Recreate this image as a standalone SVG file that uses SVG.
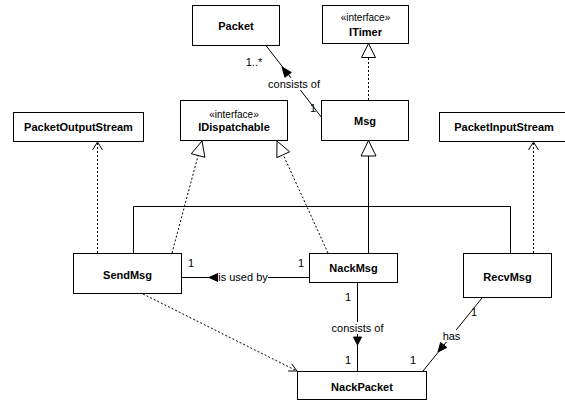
<svg xmlns="http://www.w3.org/2000/svg" width="565" height="400" viewBox="0 0 565 400">
<style>
.box{fill:#fff;stroke:#000;stroke-width:1}
.cn{font-family:"Liberation Sans",Arial,sans-serif;font-size:11px;font-weight:bold;text-anchor:middle;fill:#000}
.st{font-family:"Liberation Sans",Arial,sans-serif;font-size:10px;text-anchor:middle;fill:#000}
.lb{font-family:"Liberation Sans",Arial,sans-serif;font-size:11px;text-anchor:middle;fill:#000}
.ln{fill:none;stroke:#000;stroke-width:1}
.dl{fill:none;stroke:#000;stroke-width:1;stroke-dasharray:2,2}
.tri{fill:#fff;stroke:#000;stroke-width:1}
.fa{fill:#000;stroke:#000;stroke-width:1}
.bg{fill:#fff}
</style>
<rect width="565" height="400" fill="#fff"/>
<g id="connectors">
  <!-- Msg to Packet: consists of -->
  <line class="ln" x1="266" y1="45.5" x2="322" y2="118"/>
  <polygon class="fa" points="282,67 291.3,72.5 284.9,77.3"/>
  <text class="lb" x="254" y="66">1..*</text>
  <rect class="bg" x="267" y="78" width="54" height="12"/>
  <text class="lb" x="294" y="88">consists of</text>
  <text class="lb" x="313" y="112">1</text>
  <!-- Msg realizes ITimer -->
  <line class="dl" x1="368.5" y1="100" x2="368.5" y2="57"/>
  <polygon class="tri" points="368.5,43.5 361.5,57.5 375.5,57.5"/>
  <!-- generalization to Msg -->
  <line class="ln" x1="368.5" y1="253" x2="368.5" y2="156"/>
  <polygon class="tri" points="368.5,140.5 361,156 376,156"/>
  <polyline class="ln" points="133.5,253 133.5,206.5 510.5,206.5 510.5,253"/>
  <!-- SendMsg realizes IDispatchable -->
  <line class="dl" x1="172" y1="253" x2="198.1" y2="155.5"/>
  <polygon class="tri" points="202,141 204.9,157.3 191.3,153.7"/>
  <!-- NackMsg realizes IDispatchable -->
  <line class="dl" x1="328" y1="253" x2="283.2" y2="154.7"/>
  <polygon class="tri" points="277,141 289.6,151.8 276.8,157.6"/>
  <!-- SendMsg to PacketOutputStream -->
  <line class="dl" x1="97.5" y1="253" x2="97.5" y2="142"/>
  <polyline class="ln" points="92.5,150 97.5,142 102.5,150"/>
  <!-- RecvMsg to PacketInputStream -->
  <line class="dl" x1="533.5" y1="253" x2="533.5" y2="142"/>
  <polyline class="ln" points="528.5,150 533.5,142 538.5,150"/>
  <!-- is used by -->
  <line class="ln" x1="182" y1="277.5" x2="309" y2="277.5"/>
  <polygon class="fa" points="209,277.5 218,273.5 218,281.5"/>
  <rect class="bg" x="218" y="271" width="50" height="13"/>
  <text class="lb" x="243" y="281">is used by</text>
  <text class="lb" x="191" y="267">1</text>
  <text class="lb" x="301" y="267">1</text>
  <!-- NackMsg to NackPacket: consists of -->
  <line class="ln" x1="357.5" y1="282" x2="357.5" y2="371"/>
  <polygon class="fa" points="357.5,345 353.5,337 361.5,337"/>
  <rect class="bg" x="330" y="322" width="55" height="12"/>
  <text class="lb" x="357.5" y="332">consists of</text>
  <text class="lb" x="348" y="301">1</text>
  <text class="lb" x="348" y="364">1</text>
  <!-- RecvMsg to NackPacket: has -->
  <line class="ln" x1="482" y1="298" x2="423" y2="371"/>
  <polygon class="fa" points="438,352 446.8,347.5 440.6,342.5"/>
  <rect class="bg" x="442" y="330" width="19" height="12"/>
  <text class="lb" x="451.5" y="340">has</text>
  <text class="lb" x="474" y="316">1</text>
  <text class="lb" x="413" y="364">1</text>
  <!-- SendMsg to NackPacket dependency -->
  <line class="dl" x1="143" y1="294" x2="297" y2="371"/>
  <polyline class="ln" points="288.1,371 297,371 291.6,363.8"/>
</g>
<g id="Packet"><rect class="box" x="192.5" y="5.5" width="87" height="40"/><text class="cn" x="236" y="30">Packet</text></g>
<g id="ITimer"><rect class="box" x="322.5" y="5.5" width="86" height="38"/><text class="st" x="365.5" y="21">«interface»</text><text class="cn" x="365.5" y="36">ITimer</text></g>
<g id="Msg"><rect class="box" x="321.5" y="100.5" width="87" height="40"/><text class="cn" x="365" y="125">Msg</text></g>
<g id="IDispatchable"><rect class="box" x="180.5" y="100.5" width="107" height="40"/><text class="st" x="234" y="118">«interface»</text><text class="cn" x="234" y="131">IDispatchable</text></g>
<g id="PacketOutputStream"><rect class="box" x="13.5" y="112.5" width="130" height="29"/><text class="cn" x="78.5" y="131">PacketOutputStream</text></g>
<g id="PacketInputStream"><rect class="box" x="439.5" y="112.5" width="130" height="29"/><text class="cn" x="504" y="131">PacketInputStream</text></g>
<g id="SendMsg"><rect class="box" x="73.5" y="253.5" width="108" height="40"/><text class="cn" x="127.5" y="279">SendMsg</text></g>
<g id="NackMsg"><rect class="box" x="309.5" y="253.5" width="88" height="29"/><text class="cn" x="353.5" y="272">NackMsg</text></g>
<g id="RecvMsg"><rect class="box" x="463.5" y="253.5" width="88" height="44"/><text class="cn" x="507.5" y="281">RecvMsg</text></g>
<g id="NackPacket"><rect class="box" x="297.5" y="371.5" width="129" height="28"/><text class="cn" x="362" y="391">NackPacket</text></g>
</svg>
